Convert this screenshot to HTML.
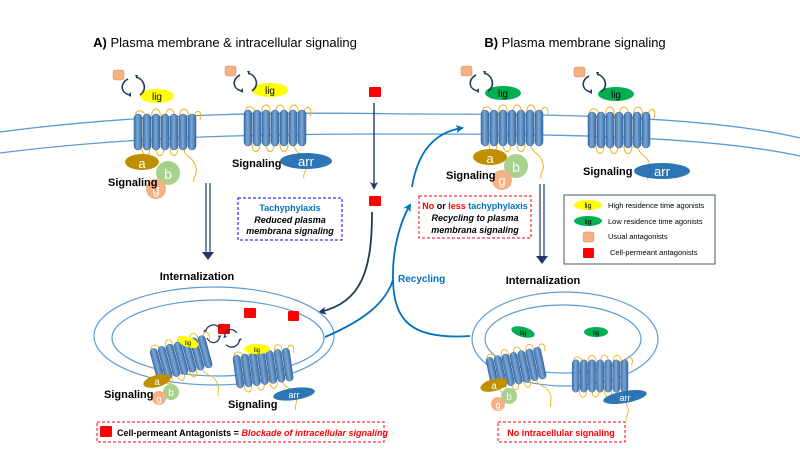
<!DOCTYPE html>
<html><head><meta charset="utf-8"><style>
html,body{margin:0;padding:0;background:#fff;}
svg{display:block;font-family:"Liberation Sans",sans-serif;}
</style></head><body>
<svg width="800" height="450" viewBox="0 0 800 450" xmlns="http://www.w3.org/2000/svg">
<defs>
<linearGradient id="cyl" x1="0" x2="1" y1="0" y2="0">
<stop offset="0" stop-color="#3d6fa8"/><stop offset="0.45" stop-color="#7aa7d8"/><stop offset="1" stop-color="#3a6aa0"/>
</linearGradient>
<g id="rec">
<path d="M-28,-10 c-8,-12 6,-16 8,-4 M-14,-14 c-2,-12 10,-12 8,0 M0,-14 c-2,-12 10,-12 8,0 M14,-14 c-2,-12 10,-12 8,0 M28,-14 c0,-10 10,-8 6,2" fill="none" stroke="#f2b21b" stroke-width="1"/>
<path d="M-24,16 c0,10 8,10 8,0 M-10,16 c0,10 8,10 8,0 M4,16 c0,10 8,10 8,0 M18,16 c0,10 10,8 12,20 c2,6 -4,10 -2,14" fill="none" stroke="#f2b21b" stroke-width="1"/>
<g fill="url(#cyl)" stroke="#2f5f94" stroke-width="0.5">
<rect x="-32" y="-18" width="8" height="36" rx="4"/>
<rect x="-23" y="-18" width="8" height="36" rx="4"/>
<rect x="-14" y="-18" width="8" height="36" rx="4"/>
<rect x="-5" y="-18" width="8" height="36" rx="4"/>
<rect x="4" y="-18" width="8" height="36" rx="4"/>
<rect x="13" y="-18" width="8" height="36" rx="4"/>
<rect x="22" y="-18" width="8" height="36" rx="4"/>
</g>
</g>
<g id="cyc">
<path d="M0,0 c-8,4 -8,14 2,16" fill="none" stroke="#1f3b5a" stroke-width="1.6"/>
<path d="M8,-2 c8,2 12,12 4,18" fill="none" stroke="#1f3b5a" stroke-width="1.6"/>
<path d="M0,16 l3,-3 l0,5z M10,-4 l-3,0 l2,4z" fill="#1f3b5a"/>
</g>
<marker id="ab" markerWidth="8" markerHeight="8" refX="6" refY="4" orient="auto" markerUnits="userSpaceOnUse"><path d="M0,0 L8,4 L0,8 L2,4z" fill="#0070c0"/></marker>
<marker id="ad" markerWidth="8" markerHeight="8" refX="6" refY="4" orient="auto" markerUnits="userSpaceOnUse"><path d="M0,0 L8,4 L0,8 L2,4z" fill="#1f3864"/></marker>
</defs>

<text x="225" y="47" font-size="13" text-anchor="middle" fill="#000"><tspan font-weight="bold">A)</tspan> Plasma membrane &amp; intracellular signaling</text>
<text x="575" y="47" font-size="13" text-anchor="middle" fill="#000"><tspan font-weight="bold">B)</tspan> Plasma membrane signaling</text>

<path d="M0,132 C150,112 300,112 400,114 C520,114 700,114 800,138" fill="none" stroke="#5b9bd5" stroke-width="1.3"/>
<path d="M0,153 C150,134 300,134 400,134 C520,134 700,134 800,156" fill="none" stroke="#5b9bd5" stroke-width="1.3"/>

<use href="#rec" x="166" y="132"/>
<use href="#rec" x="276" y="128"/>
<ellipse cx="157" cy="96" rx="17" ry="7" fill="#ffff00"/><text x="157" y="100" font-size="10" text-anchor="middle">lig</text>
<ellipse cx="270" cy="90" rx="18" ry="7" fill="#ffff00"/><text x="270" y="94" font-size="10" text-anchor="middle">lig</text>
<rect x="113" y="70" width="11" height="10" rx="2" fill="#f4b183" stroke="#e0905a" stroke-width="0.5"/>
<rect x="225" y="66" width="11" height="10" rx="2" fill="#f4b183" stroke="#e0905a" stroke-width="0.5"/>
<use href="#cyc" x="128" y="79"/>
<use href="#cyc" x="240" y="75"/>
<ellipse cx="142" cy="162" rx="17" ry="8" fill="#bf8f00"/><text x="142" y="168" font-size="13" fill="#fff" text-anchor="middle">a</text>
<circle cx="168" cy="173" r="12" fill="#a9d18e"/><text x="168" y="179" font-size="14" fill="#fff" text-anchor="middle">b</text>
<circle cx="156" cy="189" r="10" fill="#f4b183"/><text x="156" y="194" font-size="13" fill="#fff" text-anchor="middle">g</text>
<text x="108" y="186" font-size="11" font-weight="bold">Signaling</text>
<text x="232" y="167" font-size="11" font-weight="bold">Signaling</text>
<ellipse cx="306" cy="161" rx="26" ry="8" fill="#2e75b6"/><text x="306" y="166" font-size="13" fill="#fff" text-anchor="middle">arr</text>

<rect x="369" y="87" width="12" height="10" rx="1" fill="#ff0000"/>
<path d="M374,103 L374,188" stroke="#1f3864" stroke-width="1.4" marker-end="url(#ad)"/>
<rect x="369" y="196" width="12" height="10" rx="1" fill="#ff0000"/>
<path d="M372,212 C372,270 362,302 320,312" fill="none" stroke="#1f3b5a" stroke-width="1.8" marker-end="url(#ad)"/>

<path d="M206,183 L206,253 M210,183 L210,253" stroke="#1f3864" stroke-width="1.2"/>
<path d="M202,252 L214,252 L208,260z" fill="#1f3864"/>
<text x="197" y="280" font-size="11" font-weight="bold" text-anchor="middle">Internalization</text>

<rect x="238" y="198" width="104" height="42" fill="none" stroke="#0000ff" stroke-dasharray="3,2"/>
<text x="290" y="211" font-size="9" font-weight="bold" fill="#0070c0" text-anchor="middle">Tachyphylaxis</text>
<text x="290" y="223" font-size="9" font-weight="bold" font-style="italic" text-anchor="middle">Reduced plasma</text>
<text x="290" y="234" font-size="9" font-weight="bold" font-style="italic" text-anchor="middle">membrana signaling</text>

<ellipse cx="214" cy="336" rx="120" ry="49" fill="none" stroke="#5b9bd5" stroke-width="1.2"/>
<ellipse cx="218" cy="338" rx="106" ry="38" fill="#fff" stroke="#5b9bd5" stroke-width="1.2"/>
<use href="#rec" transform="translate(182,358) rotate(-15) scale(0.92)"/>
<use href="#rec" transform="translate(264,368) rotate(-8) scale(0.92)"/>
<ellipse cx="188" cy="342" rx="11" ry="5" fill="#ffff00" transform="rotate(20 188 342)"/><text x="188" y="345" font-size="6" text-anchor="middle">lig</text>
<ellipse cx="257" cy="349" rx="13" ry="5" fill="#ffff00"/><text x="257" y="352" font-size="6" text-anchor="middle">lig</text>
<rect x="218" y="324" width="12" height="10" rx="1" fill="#ff0000"/>
<rect x="244" y="308" width="12" height="10" rx="1" fill="#ff0000"/>
<rect x="288" y="311" width="11" height="10" rx="1" fill="#ff0000"/>
<use href="#cyc" transform="translate(207,338) rotate(-90) scale(0.8)"/>
<use href="#cyc" transform="translate(237,333) rotate(80) scale(0.8)"/>
<ellipse cx="157" cy="381" rx="14" ry="6" fill="#bf8f00" transform="rotate(-15 157 381)"/><text x="157" y="385" font-size="10" fill="#fff" text-anchor="middle">a</text>
<circle cx="171" cy="392" r="8" fill="#a9d18e"/><text x="171" y="396" font-size="10" fill="#fff" text-anchor="middle">b</text>
<circle cx="159" cy="398" r="7" fill="#f4b183"/><text x="159" y="402" font-size="9" fill="#fff" text-anchor="middle">g</text>
<text x="104" y="398" font-size="11" font-weight="bold">Signaling</text>
<text x="228" y="408" font-size="11" font-weight="bold">Signaling</text>
<ellipse cx="294" cy="394" rx="21" ry="6" fill="#2e75b6" transform="rotate(-8 294 394)"/><text x="294" y="398" font-size="9" fill="#fff" text-anchor="middle">arr</text>

<path d="M325,337 C360,322 385,305 393,280" fill="none" stroke="#0070c0" stroke-width="1.8"/>
<path d="M470,336 C410,340 394,320 393,280 C392,250 400,222 410,205" fill="none" stroke="#0070c0" stroke-width="1.8" marker-end="url(#ab)"/>
<path d="M412,187 C418,150 436,132 462,128" fill="none" stroke="#0070c0" stroke-width="1.8" marker-end="url(#ab)"/>
<text x="398" y="282" font-size="10" font-weight="bold" fill="#0070c0">Recycling</text>

<rect x="419" y="196" width="112" height="42" fill="none" stroke="#ff0000" stroke-dasharray="3,2"/>
<text x="475" y="209" font-size="9" font-weight="bold" text-anchor="middle"><tspan fill="#ff0000">No</tspan> or <tspan fill="#ff0000">less</tspan> <tspan fill="#0070c0">tachyphylaxis</tspan></text>
<text x="475" y="221" font-size="9" font-weight="bold" font-style="italic" text-anchor="middle">Recycling to plasma</text>
<text x="475" y="233" font-size="9" font-weight="bold" font-style="italic" text-anchor="middle">membrana signaling</text>

<use href="#rec" x="513" y="128"/>
<use href="#rec" x="620" y="130"/>
<ellipse cx="503" cy="93" rx="18" ry="7" fill="#00b050"/><text x="503" y="97" font-size="10" text-anchor="middle">lig</text>
<ellipse cx="616" cy="94" rx="18" ry="7" fill="#00b050"/><text x="616" y="98" font-size="10" text-anchor="middle">lig</text>
<rect x="461" y="66" width="11" height="10" rx="2" fill="#f4b183" stroke="#e0905a" stroke-width="0.5"/>
<rect x="574" y="67" width="11" height="10" rx="2" fill="#f4b183" stroke="#e0905a" stroke-width="0.5"/>
<use href="#cyc" x="476" y="75"/>
<use href="#cyc" x="589" y="76"/>
<ellipse cx="490" cy="157" rx="17" ry="8" fill="#bf8f00"/><text x="490" y="163" font-size="13" fill="#fff" text-anchor="middle">a</text>
<circle cx="516" cy="166" r="12" fill="#a9d18e"/><text x="516" y="172" font-size="14" fill="#fff" text-anchor="middle">b</text>
<circle cx="502" cy="180" r="10" fill="#f4b183"/><text x="502" y="185" font-size="13" fill="#fff" text-anchor="middle">g</text>
<text x="446" y="179" font-size="11" font-weight="bold">Signaling</text>
<text x="583" y="175" font-size="11" font-weight="bold">Signaling</text>
<ellipse cx="662" cy="171" rx="28" ry="8" fill="#2e75b6"/><text x="662" y="176" font-size="13" fill="#fff" text-anchor="middle">arr</text>

<path d="M540,184 L540,257 M544,184 L544,257" stroke="#1f3864" stroke-width="1.2"/>
<path d="M536,256 L548,256 L542,264z" fill="#1f3864"/>
<text x="543" y="284" font-size="11" font-weight="bold" text-anchor="middle">Internalization</text>

<rect x="564" y="195" width="151" height="69" fill="#fff" stroke="#44546a" stroke-width="1"/>
<ellipse cx="588" cy="205" rx="14" ry="5" fill="#ffff00"/><text x="588" y="208" font-size="7" text-anchor="middle">lig</text>
<text x="608" y="208" font-size="7.5">High residence time agonists</text>
<ellipse cx="588" cy="221" rx="14" ry="5" fill="#00b050"/><text x="588" y="224" font-size="7" text-anchor="middle">lig</text>
<text x="608" y="224" font-size="7.5">Low residence time agonists</text>
<rect x="583" y="232" width="11" height="10" rx="2" fill="#f4b183" stroke="#e0905a" stroke-width="0.5"/>
<text x="608" y="239" font-size="7.5">Usual antagonists</text>
<rect x="583" y="248" width="11" height="10" rx="1" fill="#ff0000"/>
<text x="610" y="255" font-size="7.5">Cell-permeant antagonists</text>

<ellipse cx="565" cy="339" rx="93" ry="47" fill="none" stroke="#5b9bd5" stroke-width="1.2"/>
<ellipse cx="563" cy="339" rx="78" ry="34" fill="#fff" stroke="#5b9bd5" stroke-width="1.2"/>
<ellipse cx="523" cy="332" rx="12" ry="5" fill="#00b050" transform="rotate(15 523 332)"/><text x="523" y="335" font-size="6" text-anchor="middle">lig</text>
<ellipse cx="596" cy="332" rx="12" ry="5" fill="#00b050"/><text x="596" y="335" font-size="6" text-anchor="middle">lig</text>
<use href="#rec" transform="translate(517,368) rotate(-12) scale(0.9)"/>
<use href="#rec" transform="translate(601,376) scale(0.9)"/>
<ellipse cx="494" cy="385" rx="14" ry="6" fill="#bf8f00" transform="rotate(-15 494 385)"/><text x="494" y="389" font-size="10" fill="#fff" text-anchor="middle">a</text>
<circle cx="509" cy="396" r="8" fill="#a9d18e"/><text x="509" y="400" font-size="10" fill="#fff" text-anchor="middle">b</text>
<circle cx="498" cy="404" r="7" fill="#f4b183"/><text x="498" y="408" font-size="9" fill="#fff" text-anchor="middle">g</text>
<ellipse cx="625" cy="397" rx="22" ry="6" fill="#2e75b6" transform="rotate(-10 625 397)"/><text x="625" y="401" font-size="9" fill="#fff" text-anchor="middle">arr</text>

<rect x="97" y="422" width="287" height="20" fill="none" stroke="#ff0000" stroke-dasharray="3,2"/>
<rect x="100" y="426" width="12" height="11" rx="1" fill="#ff0000"/>
<text x="117" y="436" font-size="9" font-weight="bold">Cell-permeant Antagonists = <tspan fill="#ff0000" font-style="italic">Blockade of intracellular signaling</tspan></text>
<rect x="498" y="422" width="127" height="20" fill="none" stroke="#ff0000" stroke-dasharray="3,2"/>
<text x="561" y="436" font-size="9" font-weight="bold" fill="#ff0000" text-anchor="middle">No intracellular signaling</text>
</svg>
</body></html>
